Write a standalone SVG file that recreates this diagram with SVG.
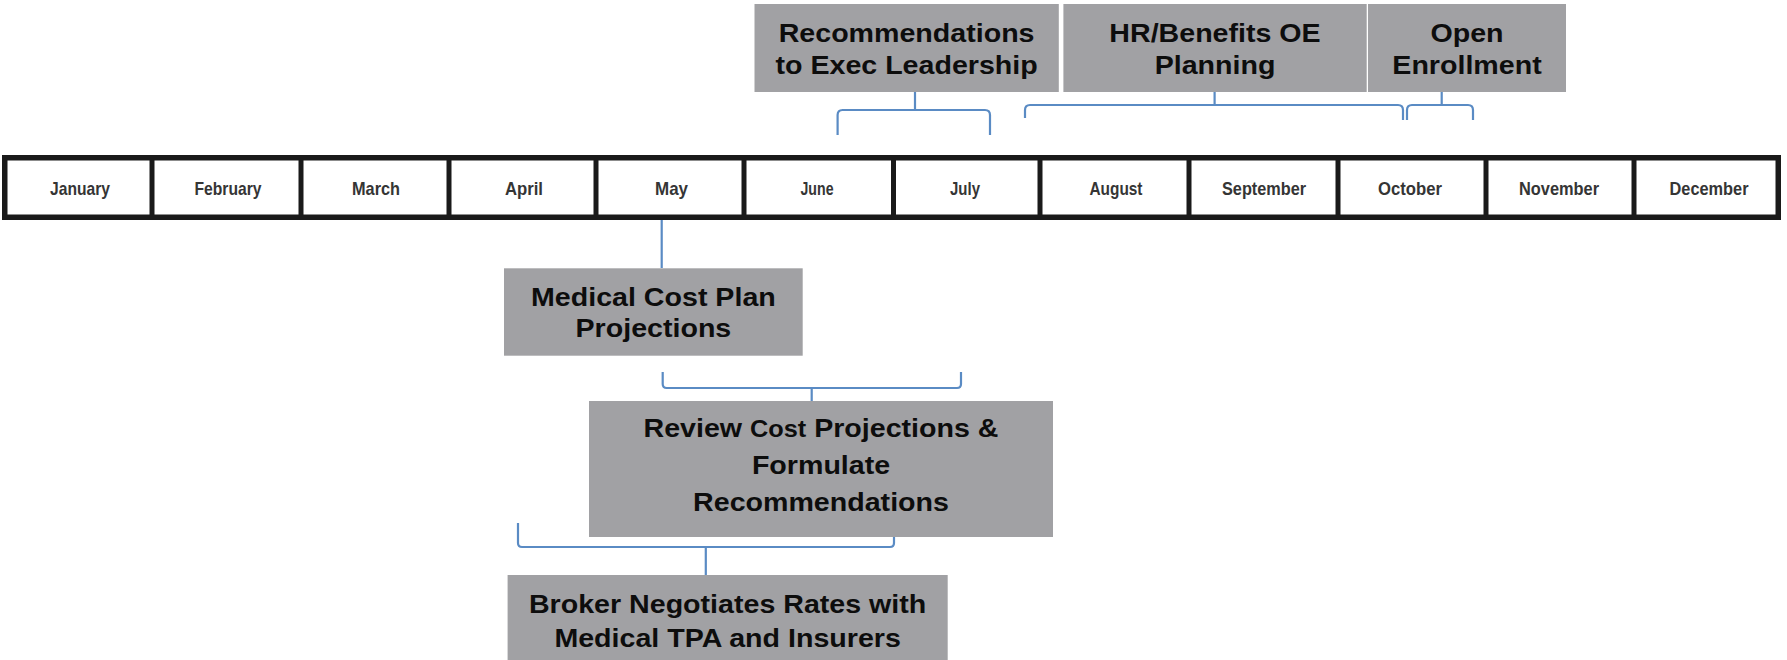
<svg xmlns="http://www.w3.org/2000/svg" width="1787" height="660" viewBox="0 0 1787 660">
<style>
.box{fill:#a1a1a4}
.lbl{font-family:"Liberation Sans",Arial,sans-serif;font-weight:bold;font-size:26px;fill:#0d0d0d;text-anchor:middle}
.mon{font-family:"Liberation Sans",Arial,sans-serif;font-weight:bold;font-size:19px;fill:#353535;text-anchor:middle}
.frame{fill:#fff;stroke:#1a1a1a;stroke-width:5.5}
.div{stroke:#1a1a1a;stroke-width:5}
.con{fill:none;stroke:#5a8bc4;stroke-width:2.2}
</style>
<rect width="1787" height="660" fill="#fff"/>
<g id="connectors">
<path class="con" d="M661.7,220 L661.7,268"/>
<path class="con" d="M837.6,135 L837.6,115 Q837.6,110 842.6,110 L985,110 Q990,110 990,115 L990,135 M915,110 L915,92"/>
<path class="con" d="M1025,118 L1025,110 Q1025,105 1030,105 L1398,105 Q1403,105 1403,110 L1403,120 M1214.6,105 L1214.6,92"/>
<path class="con" d="M1407,120 L1407,110 Q1407,105 1412,105 L1468,105 Q1473,105 1473,110 L1473,120 M1441.7,105 L1441.7,92"/>
<path class="con" d="M662.7,372 L662.7,384 Q662.7,388 666.7,388 L957,388 Q961,388 961,384 L961,372 M811.7,388 L811.7,401"/>
<path class="con" d="M518,523 L518,543 Q518,547 522,547 L890,547 Q894,547 894,543 L894,537 M705.8,547 L705.8,575"/>
</g>
<g id="timeline">
<rect class="frame" x="4.75" y="157.75" width="1773.5" height="59.5"/>
<path class="div" d="M152,158 V217 M301,158 V217 M449,158 V217 M596,158 V217 M744,158 V217 M893.5,158 V217 M1040,158 V217 M1189,158 V217 M1338,158 V217 M1486,158 V217 M1634,158 V217"/>
<text class="mon" x="80" y="195" textLength="60" lengthAdjust="spacingAndGlyphs">January</text>
<text class="mon" x="228" y="195" textLength="67" lengthAdjust="spacingAndGlyphs">February</text>
<text class="mon" x="376" y="195" textLength="48" lengthAdjust="spacingAndGlyphs">March</text>
<text class="mon" x="524" y="195" textLength="38" lengthAdjust="spacingAndGlyphs">April</text>
<text class="mon" x="671.5" y="195" textLength="33" lengthAdjust="spacingAndGlyphs">May</text>
<text class="mon" x="817" y="195" textLength="33" lengthAdjust="spacingAndGlyphs">June</text>
<text class="mon" x="965" y="195" textLength="30" lengthAdjust="spacingAndGlyphs">July</text>
<text class="mon" x="1116" y="195" textLength="53" lengthAdjust="spacingAndGlyphs">August</text>
<text class="mon" x="1264" y="195" textLength="84" lengthAdjust="spacingAndGlyphs">September</text>
<text class="mon" x="1410" y="195" textLength="64" lengthAdjust="spacingAndGlyphs">October</text>
<text class="mon" x="1559" y="195" textLength="80" lengthAdjust="spacingAndGlyphs">November</text>
<text class="mon" x="1709" y="195" textLength="79" lengthAdjust="spacingAndGlyphs">December</text>
</g>
<g id="node-recommendations">
<rect class="box" x="754.5" y="4" width="304.3" height="88"/>
<g transform="translate(906.6,0) scale(1.1,1)">
<text class="lbl" x="0" y="42">Recommendations</text>
<text class="lbl" x="0" y="74">to Exec Leadership</text>
</g>
</g>
<g id="node-hr-planning">
<rect class="box" x="1063.4" y="4" width="303.3" height="88"/>
<g transform="translate(1215,0) scale(1.1,1)">
<text class="lbl" x="0" y="42">HR/Benefits OE</text>
<text class="lbl" x="0" y="74">Planning</text>
</g>
</g>
<g id="node-open-enrollment">
<rect class="box" x="1368" y="4" width="198" height="88"/>
<g transform="translate(1467,0) scale(1.1,1)">
<text class="lbl" x="0" y="42">Open</text>
<text class="lbl" x="0" y="74">Enrollment</text>
</g>
</g>
<g id="node-medical-cost">
<rect class="box" x="504" y="268.3" width="298.7" height="87.4"/>
<g transform="translate(653.4,0) scale(1.1,1)">
<text class="lbl" x="0" y="306">Medical Cost Plan</text>
<text class="lbl" x="0" y="337">Projections</text>
</g>
</g>
<g id="node-review">
<rect class="box" x="589" y="401" width="464" height="136"/>
<g transform="translate(821,0) scale(1.1,1)">
<text class="lbl" x="0" y="437">Review <tspan font-size="23">Cost</tspan> Projections &amp;</text>
<text class="lbl" x="0" y="474">Formulate</text>
<text class="lbl" x="0" y="511">Recommendations</text>
</g>
</g>
<g id="node-broker">
<rect class="box" x="507.6" y="575" width="440.1" height="85"/>
<g transform="translate(727.6,0) scale(1.1,1)">
<text class="lbl" x="0" y="613">Broker Negotiates Rates with</text>
<text class="lbl" x="0" y="647">Medical TPA and Insurers</text>
</g>
</g>
</svg>
